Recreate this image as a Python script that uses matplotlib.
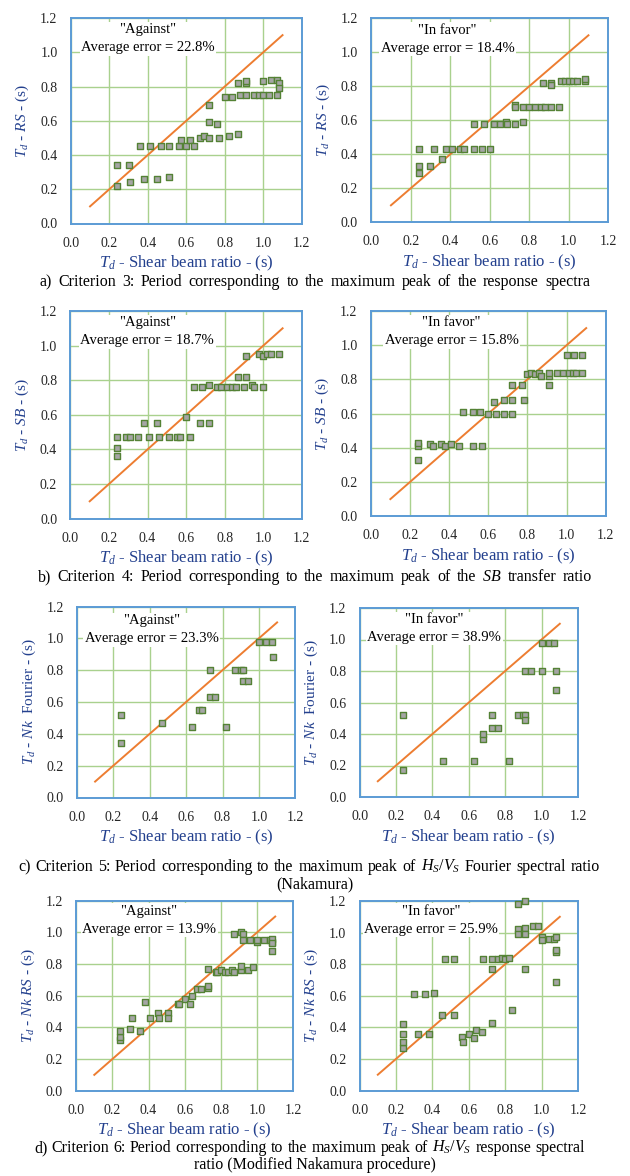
import matplotlib
matplotlib.use("Agg")
import matplotlib.pyplot as plt

plt.rcParams['font.family'] = 'Liberation Serif'
plt.rcParams['mathtext.fontset'] = 'custom'
plt.rcParams['mathtext.rm'] = 'Liberation Serif'
plt.rcParams['mathtext.it'] = 'Liberation Serif:italic'

# Criterion 3 (response spectra)
a_against_x = [0.24, 0.24, 0.30, 0.31, 0.38, 0.36, 0.41, 0.45, 0.47, 0.51, 0.51, 0.56, 0.57, 0.60,
               0.62, 0.64, 0.67, 0.69, 0.72, 0.72, 0.72, 0.76, 0.77, 0.80, 0.82, 0.84, 0.87, 0.88,
               0.87, 0.91, 0.91, 0.91, 0.95, 0.98, 1.00, 1.03, 1.07, 1.00, 1.04, 1.07, 1.08, 1.08]
a_against_y = [0.22, 0.34, 0.34, 0.24, 0.26, 0.45, 0.45, 0.26, 0.45, 0.27, 0.45, 0.45, 0.49, 0.45,
               0.49, 0.45, 0.50, 0.51, 0.50, 0.59, 0.69, 0.58, 0.50, 0.74, 0.51, 0.74, 0.52, 0.75,
               0.82, 0.82, 0.83, 0.75, 0.75, 0.75, 0.75, 0.75, 0.75, 0.83, 0.84, 0.84, 0.82, 0.79]
a_favor_x = [0.24, 0.24, 0.24, 0.30, 0.32, 0.36, 0.38, 0.41, 0.45, 0.47, 0.52, 0.56, 0.60,
             0.52, 0.57, 0.62, 0.65, 0.68, 0.69, 0.73, 0.77,
             0.73, 0.73, 0.77, 0.80, 0.83, 0.86, 0.88, 0.91, 0.95,
             0.87, 0.91, 0.91, 0.96, 0.98, 1.00, 1.02, 1.04, 1.08, 1.08]
a_favor_y = [0.29, 0.33, 0.43, 0.33, 0.43, 0.37, 0.43, 0.43, 0.43, 0.43, 0.43, 0.43, 0.43,
             0.58, 0.58, 0.58, 0.58, 0.59, 0.58, 0.58, 0.59,
             0.69, 0.68, 0.68, 0.68, 0.68, 0.68, 0.68, 0.68, 0.68,
             0.82, 0.82, 0.81, 0.83, 0.83, 0.83, 0.83, 0.83, 0.83, 0.84]

# Criterion 4 (SB transfer ratio)
b_against_x = [0.24, 0.24, 0.24, 0.29, 0.31, 0.35, 0.38, 0.41, 0.45, 0.46, 0.51, 0.55, 0.57,
               0.62, 0.60, 0.67, 0.72,
               0.64, 0.68, 0.72, 0.76, 0.78, 0.81, 0.84, 0.86, 0.90, 0.87, 0.91, 0.94, 0.95, 1.00,
               0.91, 0.98, 1.00, 1.02, 1.04, 1.08]
b_against_y = [0.36, 0.41, 0.47, 0.47, 0.47, 0.47, 0.55, 0.47, 0.55, 0.47, 0.47, 0.47, 0.47,
               0.47, 0.59, 0.55, 0.55,
               0.76, 0.76, 0.77, 0.76, 0.76, 0.76, 0.76, 0.76, 0.76, 0.82, 0.82, 0.77, 0.76, 0.76,
               0.94, 0.95, 0.94, 0.95, 0.95, 0.95]
b_favor_x = [0.24, 0.24, 0.24, 0.30, 0.32, 0.36, 0.38, 0.41, 0.45, 0.52, 0.57,
             0.47, 0.52, 0.56, 0.60, 0.64, 0.68, 0.72,
             0.63, 0.68, 0.72, 0.78,
             0.72, 0.77, 0.91,
             0.80, 0.82, 0.84, 0.86, 0.87, 0.91, 0.91,
             0.95, 0.98, 1.01, 1.03, 1.05, 1.08,
             1.00, 1.04, 1.08]
b_favor_y = [0.33, 0.41, 0.43, 0.42, 0.41, 0.42, 0.41, 0.42, 0.41, 0.41, 0.41,
             0.61, 0.61, 0.61, 0.60, 0.60, 0.60, 0.60,
             0.67, 0.68, 0.68, 0.68,
             0.77, 0.77, 0.77,
             0.83, 0.84, 0.83, 0.84, 0.82, 0.82, 0.84,
             0.84, 0.84, 0.84, 0.84, 0.84, 0.84,
             0.94, 0.94, 0.94]

# Criterion 5 (Nakamura Fourier ratio)
c_against_x = [0.24, 0.24, 0.47, 0.63, 0.67, 0.69, 0.73, 0.76, 0.73, 0.82, 0.87, 0.90, 0.91,
               0.91, 0.94, 1.00, 1.04, 1.07, 1.08]
c_against_y = [0.52, 0.34, 0.47, 0.44, 0.55, 0.55, 0.63, 0.63, 0.80, 0.44, 0.80, 0.80, 0.80,
               0.73, 0.73, 0.98, 0.98, 0.98, 0.88]
c_favor_x = [0.24, 0.24, 0.46, 0.63, 0.68, 0.68, 0.73, 0.73, 0.76, 0.82, 0.87, 0.90, 0.91,
             0.91, 0.91, 0.94, 1.00, 1.08, 1.08, 1.00, 1.04, 1.07]
c_favor_y = [0.52, 0.17, 0.23, 0.23, 0.37, 0.40, 0.52, 0.44, 0.44, 0.23, 0.52, 0.52, 0.52,
             0.49, 0.80, 0.80, 0.80, 0.80, 0.68, 0.98, 0.98, 0.98]

# Criterion 6 (modified Nakamura response spectra)
d_against_x = [0.24, 0.24, 0.24, 0.30, 0.31, 0.35, 0.38, 0.41, 0.45, 0.46, 0.51, 0.51, 0.56,
               0.57, 0.60, 0.63, 0.64, 0.67, 0.69, 0.73, 0.73, 0.73, 0.77, 0.78, 0.80, 0.82,
               0.84, 0.86, 0.87, 0.91, 0.91, 0.95, 0.98, 0.87, 0.91, 0.92, 0.92, 0.96, 1.00,
               1.00, 1.04, 1.07, 1.08, 1.08, 1.08, 1.08]
d_against_y = [0.32, 0.34, 0.38, 0.39, 0.46, 0.38, 0.56, 0.46, 0.49, 0.46, 0.49, 0.46, 0.55,
               0.55, 0.58, 0.55, 0.60, 0.64, 0.64, 0.65, 0.66, 0.77, 0.75, 0.75, 0.76, 0.75,
               0.75, 0.76, 0.75, 0.76, 0.79, 0.76, 0.78, 0.99, 1.00, 0.99, 0.95, 0.95, 0.94,
               0.95, 0.95, 0.95, 0.94, 0.96, 0.93, 0.88]
d_favor_x = [0.24, 0.24, 0.24, 0.24, 0.32, 0.38, 0.30, 0.36, 0.41, 0.45, 0.52, 0.47, 0.52,
             0.56, 0.57, 0.60, 0.63, 0.64, 0.67, 0.73, 0.68, 0.73, 0.73, 0.76, 0.78, 0.80,
             0.82, 0.84, 0.87, 0.91, 0.87, 0.91, 0.87, 0.91, 0.95, 0.98, 0.91, 1.00, 1.00,
             1.04, 1.07, 1.08, 1.08, 1.08, 1.08]
d_favor_y = [0.27, 0.31, 0.36, 0.42, 0.36, 0.36, 0.61, 0.61, 0.62, 0.48, 0.48, 0.83, 0.83,
             0.34, 0.31, 0.36, 0.33, 0.38, 0.37, 0.43, 0.83, 0.83, 0.77, 0.83, 0.84, 0.83,
             0.84, 0.51, 1.18, 1.20, 1.02, 1.03, 0.99, 0.99, 1.04, 1.04, 0.77, 0.97, 0.95,
             0.96, 0.96, 0.97, 0.88, 0.89, 0.69]

errors = ["22.8%", "18.4%", "18.7%", "15.8%", "23.3%", "38.9%", "13.9%", "25.9%"]
ylabels = [r"$T_d$ - $RS$ - (s)", r"$T_d$ - $SB$ - (s)",
           r"$T_d$ - $Nk$  Fourier - (s)", r"$T_d$ - $Nk\ RS$ - (s)"]
xlabel = r"$T_d$ - Shear beam ratio - (s)"
# (first line, second line or None)
captions = [
    ("a) Criterion 3: Period corresponding to the maximum peak of the response spectra", None),
    ("b) Criterion 4: Period corresponding to the maximum peak of the $SB$ transfer ratio", None),
    ("c) Criterion 5: Period corresponding to the maximum peak of $H_S/V_S$ Fourier spectral ratio",
     "(Nakamura)"),
    ("d) Criterion 6: Period corresponding to the maximum peak of $H_S/V_S$ response spectral",
     "ratio (Modified Nakamura procedure)"),
]
ticks = [0.0, 0.2, 0.4, 0.6, 0.8, 1.0, 1.2]

W, H = 630, 1176
fig = plt.figure(figsize=(W / 100, H / 100), dpi=100)
renderer = fig.canvas.get_renderer()

label_color = '#23408e'


def draw_panel(box, xs, ys, title, error, ylabel, text_xy):
    x0, x1, y0, y1 = box
    ax = fig.add_axes([x0 / W, 1 - y1 / H, (x1 - x0) / W, (y1 - y0) / H])
    ax.plot([0.1, 1.1], [0.1, 1.1], color='#ED7D31', lw=1.4, zorder=2)
    ax.scatter(xs, ys, marker='s', s=15, facecolor='#A5A5A5', edgecolor='#548235',
               linewidth=1.0, zorder=3, clip_on=False)
    ax.set_xlim(0, 1.2)
    ax.set_ylim(0, 1.2)
    ax.set_xticks(ticks)
    ax.set_yticks(ticks)
    ax.set_xticklabels([f"{t:.1f}" for t in ticks])
    ax.set_yticklabels([f"{t:.1f}" for t in ticks])
    ax.grid(color='#A9D18E', lw=1.0)
    ax.set_axisbelow(True)
    ax.tick_params(length=0, labelsize=10, pad=9.5, labelcolor='#262626')
    for sp in ax.spines.values():
        sp.set_color('#5B9BD5')
        sp.set_linewidth(1.4)
    ax.text(text_xy[0], text_xy[1], f'"{title}"\nAverage error = {error}',
            ha='center', va='center', fontsize=10.5, linespacing=1.5,
            bbox=dict(fc='white', ec='none', pad=1.0), zorder=4)
    # axis titles
    fig.text((x0 - 48) / W, 1 - (y0 + y1) / 2 / H, ylabel, rotation=90,
             ha='center', va='center', fontsize=11, color=label_color)
    fig.text((x0 + x1) / 2 / W, 1 - (y1 + 40) / H, xlabel,
             ha='center', va='center', fontsize=12, color=label_color)


def justified_line(line, x_left, x_right, y_base, size):
    words = line.split(" ")
    texts = [fig.text(0, 1 - y_base / H, w, ha='left', va='baseline', fontsize=size)
             for w in words]
    widths = [t.get_window_extent(renderer).width for t in texts]
    gap = (x_right - x_left - sum(widths)) / (len(words) - 1)
    x = x_left
    for t, w in zip(texts, widths):
        t.set_x(x / W)
        x += w + gap


# pixel boxes: left, right, top, bottom
boxes = [
    (70.8, 301.8, 18.0, 223.5), (371.2, 608.2, 18.3, 222.3),
    (70.4, 301.9, 311.0, 518.6), (370.8, 605.8, 311.0, 516.2),
    (76.9, 295.3, 606.5, 797.5), (359.6, 578.0, 608.0, 797.0),
    (76.2, 293.3, 900.7, 1090.7), (359.6, 578.0, 901.0, 1090.5),
]
text_pos = [(0.40, 1.078), (0.387, 1.078), (0.399, 1.079), (0.413, 1.078),
            (0.41, 1.055), (0.41, 1.07), (0.403, 1.078), (0.392, 1.078)]
series = [(a_against_x, a_against_y), (a_favor_x, a_favor_y),
          (b_against_x, b_against_y), (b_favor_x, b_favor_y),
          (c_against_x, c_against_y), (c_favor_x, c_favor_y),
          (d_against_x, d_against_y), (d_favor_x, d_favor_y)]

for i, (xs, ys) in enumerate(series):
    title = "Against" if i % 2 == 0 else "In favor"
    draw_panel(boxes[i], xs, ys, title, errors[i], ylabels[i // 2], text_pos[i])

# caption extents: left, right, first baseline
caption_box = [(40, 590, 286), (38, 592, 581), (18, 600, 871), (34, 585, 1152)]
for (line1, line2), (xl, xr, yb) in zip(captions, caption_box):
    justified_line(line1, xl, xr, yb, 11.5)
    if line2:
        fig.text(0.5, 1 - (yb + 17) / H, line2, ha='center', va='baseline', fontsize=11.5)

fig.savefig("out.png", dpi=100)
